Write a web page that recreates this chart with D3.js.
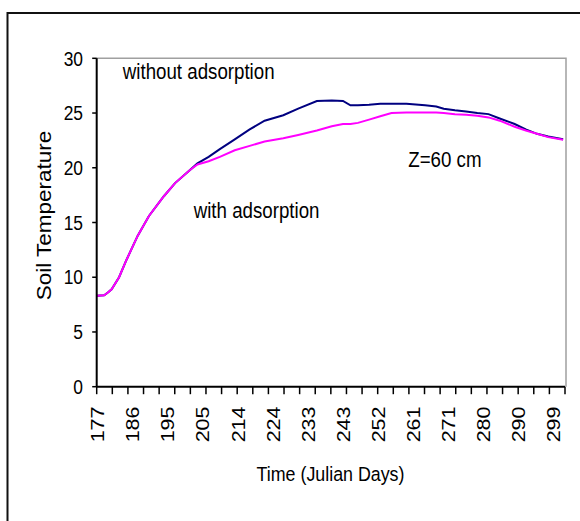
<!DOCTYPE html>
<html><head><meta charset="utf-8">
<script src="https://cdn.jsdelivr.net/npm/d3@7"></script>
<style>
html,body{margin:0;padding:0;background:#fff;}
svg{display:block;font-family:"Liberation Sans",Arial,sans-serif;}
</style></head>
<body>
<svg id="chart" width="580" height="521"></svg>
<script>
// ---- data ----
const days = [177,179,180,181,183,185,188,191,195,198,202,204,207,210,214,218,222,227,231,236,240,243,245,247,250,253,256,260,265,268,270,273,276,279,282,285,289,292,295,298,302];
const withAdsorption = [8.3,8.35,8.6,8.9,10.0,11.6,13.8,15.6,17.4,18.6,19.8,20.3,20.6,21.0,21.6,22.0,22.4,22.7,23.0,23.4,23.8,24.0,24.0,24.1,24.4,24.7,25.0,25.05,25.05,25.05,25.0,24.9,24.85,24.75,24.6,24.3,23.75,23.4,23.1,22.8,22.55];
const withoutAdsorption = [8.3,8.35,8.6,8.9,10.0,11.6,13.8,15.6,17.4,18.6,19.8,20.4,21.0,21.7,22.6,23.5,24.3,24.8,25.4,26.1,26.15,26.1,25.7,25.7,25.75,25.85,25.85,25.85,25.7,25.6,25.4,25.25,25.15,25.0,24.9,24.5,24.0,23.5,23.1,22.85,22.6];
const xTickLabels = ["177","186","195","205","214","224","233","243","252","261","271","280","290","299"];
const yTicks = [0,5,10,15,20,25,30];
const annotations = [
  {text:"without adsorption", day:184, value:28.1},
  {text:"with adsorption", day:203, value:15.4},
  {text:"Z=60 cm", day:260.5, value:20.1}
];

(function(){
// ---- layout ----
const pLeft = 96.7, pRight = 565, pTop = 58.3, pBottom = 386.7;
const xMin = 177, xMax = 302.5;
const sx = 0.87; // horizontal compression of the original picture's text

const svg = d3.select("#chart");
const x = d3.scaleLinear().domain([xMin, xMax]).range([pLeft, pRight]);
const y = d3.scaleLinear().domain([0, 30]).range([pBottom, pTop]);

// outer frame
svg.append("path").attr("d","M7.5,530 L7.5,13 L590,13")
  .attr("fill","none").attr("stroke","#111").attr("stroke-width",2);

// plot area border (top & right)
svg.append("path").attr("d",`M${pLeft},${pTop} L${pRight+1},${pTop} L${pRight+1},${pBottom}`)
  .attr("fill","none").attr("stroke","#a0a0a0").attr("stroke-width",1.5);

// lines
const line = d3.line().x((d,i)=>x(days[i])).y(d=>y(d));
svg.append("path").datum(withoutAdsorption).attr("d",line)
  .attr("fill","none").attr("stroke","#000080").attr("stroke-width",2);
svg.append("path").datum(withAdsorption).attr("d",line)
  .attr("fill","none").attr("stroke","#ff00ff").attr("stroke-width",2);

// y axis
svg.append("line").attr("x1",pLeft).attr("x2",pLeft).attr("y1",pTop).attr("y2",pBottom)
  .attr("stroke","#000").attr("stroke-width",2);
yTicks.forEach(v=>{
  svg.append("line").attr("x1",pLeft-4.5).attr("x2",pLeft).attr("y1",y(v)).attr("y2",y(v))
    .attr("stroke","#000").attr("stroke-width",1.5);
  svg.append("text").attr("transform",`translate(83,${y(v)}) scale(${sx},1)`)
    .attr("text-anchor","end").attr("dy","0.36em")
    .attr("font-size",20).attr("fill","#000").text(v);
});

// x axis
svg.append("line").attr("x1",pLeft).attr("x2",pRight).attr("y1",pBottom).attr("y2",pBottom)
  .attr("stroke","#000").attr("stroke-width",2);
const nTicks = 30;
d3.range(nTicks+1).forEach(i=>{
  const d = xMin + i*(xMax-xMin)/nTicks;
  svg.append("line").attr("x1",x(d)).attr("x2",x(d)).attr("y1",pBottom).attr("y2",pBottom+7.5)
    .attr("stroke","#000").attr("stroke-width",1.5);
});
const firstL = +xTickLabels[0], lastL = +xTickLabels[xTickLabels.length-1];
xTickLabels.forEach((t,i)=>{
  const d = firstL + i*(lastL-firstL)/(xTickLabels.length-1);
  svg.append("text").attr("transform",`translate(${x(d)+1},406.5) scale(${sx},1) rotate(-90)`)
    .attr("text-anchor","end").attr("dy","0.36em")
    .attr("font-size",21.5).attr("fill","#000").text(t);
});

// axis titles
svg.append("text").attr("transform",`translate(330.5,480.5) scale(${sx},1)`)
  .attr("text-anchor","middle").attr("font-size",20.5).attr("fill","#000").text("Time (Julian Days)");
svg.append("text").attr("transform",`translate(51,215.5) scale(${sx},1) rotate(-90)`)
  .attr("text-anchor","middle").attr("font-size",22.5).attr("fill","#000").text("Soil Temperature");

// annotations
annotations.forEach(a=>{
  svg.append("text").attr("transform",`translate(${x(a.day)},${y(a.value)}) scale(${sx},1)`)
    .attr("font-size",21.5).attr("fill","#000").text(a.text);
});
})();
</script>
</body></html>
